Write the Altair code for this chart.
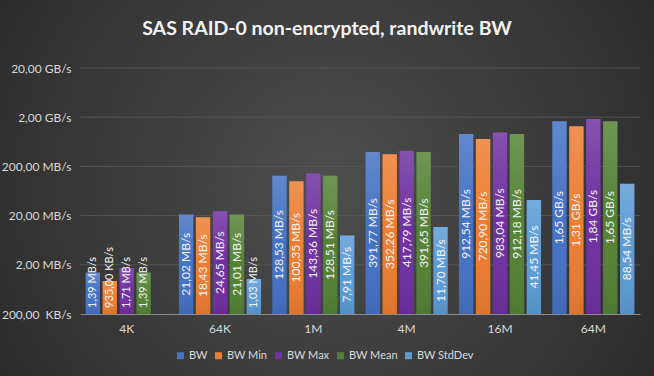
import altair as alt
import pandas as pd

categories = ["4K", "64K", "1M", "4M", "16M", "64M"]
series = ["BW", "BW Min", "BW Max", "BW Mean", "BW StdDev"]
colors = ["#4472C4", "#ED7D31", "#7030A0", "#548235", "#5B9BD5"]

# values in MB/s
bw = [1.39, 21.02, 128.53, 391.77, 912.54, 1650]
bw_min = [0.935, 18.43, 100.35, 352.26, 720.90, 1310]
bw_max = [1.71, 24.65, 143.36, 417.79, 983.04, 1840]
bw_mean = [1.39, 21.01, 128.51, 391.65, 912.18, 1650]
bw_std = [None, 1.03, 7.91, 11.70, 41.45, 88.54]

tick_values = [0.2, 2, 20, 200, 2000, 20000]
tick_labels = ["200,00\u00a0 KB/s", "2,00 MB/s", "20,00 MB/s", "200,00 MB/s", "2,00 GB/s", "20,00 GB/s"]


def fmt(v):
    if v >= 1000:
        return f"{v/1000:.2f}".replace(".", ",") + " GB/s"
    if v < 1:
        return f"{v*1000:.2f}".replace(".", ",") + " KB/s"
    return f"{v:.2f}".replace(".", ",") + " MB/s"


rows = []
for s, vals in zip(series, [bw, bw_min, bw_max, bw_mean, bw_std]):
    for c, v in zip(categories, vals):
        if v is None:
            continue
        rows.append({"cat": c, "series": s, "value": v, "label": fmt(v)})
df = pd.DataFrame(rows)
grid_df = pd.DataFrame({"tick": tick_values[1:]})

W, H = 560, 246
BASE = 0.2
yscale = alt.Scale(type="log", domain=[0.2, 20000], nice=False)
x_enc = alt.X("cat:N", sort=categories, scale=alt.Scale(paddingInner=0.12, paddingOuter=0.06),
              axis=alt.Axis(title=None, labelAngle=0, ticks=False, domainColor="#8c8c8c",
                            labelColor="#d9d9d9", labelFontSize=12, labelFont="Lato",
                            labelPadding=9, grid=False, zindex=1))
xo_enc = alt.XOffset("series:N", sort=series, scale=alt.Scale(paddingInner=0.15))
label_map = "{" + ",".join(f"'{v}':'{l}'" for v, l in zip(tick_values, tick_labels)) + "}"

bg = alt.Chart(alt.Data(values=[{}])).mark_rect(
    fill={"gradient": "radial", "x1": 0.5, "y1": 0.5, "x2": 0.5, "y2": 0.5, "r1": 0, "r2": 0.72,
          "stops": [{"offset": 0, "color": "#4e4e4e"}, {"offset": 1, "color": "#242424"}]}
).encode(x=alt.value(-80), x2=alt.value(574), y=alt.value(-68), y2=alt.value(308))

grid = alt.Chart(grid_df).mark_rule(color="#5a5a5a", strokeWidth=0.8).encode(
    y=alt.Y("tick:Q", scale=yscale)
)

bars = alt.Chart(df).mark_bar().encode(
    x=x_enc,
    xOffset=xo_enc,
    y=alt.Y("value:Q", scale=yscale,
            axis=alt.Axis(title=None, values=tick_values, labelExpr=f"{label_map}[datum.value] || ''",
                          ticks=False, domain=False, grid=False, zindex=1,
                          labelColor="#d9d9d9", labelFontSize=12, labelFont="Lato", labelPadding=9)),
    y2=alt.datum(BASE),
    color=alt.Color("series:N", sort=series, scale=alt.Scale(domain=series, range=colors),
                    legend=alt.Legend(title=None, orient="none", legendX=95, legendY=282,
                                      direction="horizontal", symbolType="square", symbolSize=49,
                                      symbolStrokeWidth=0, labelColor="#d9d9d9", labelFontSize=11,
                                      labelFont="Lato", labelOffset=3, columnPadding=5)),
)

shade = alt.Chart(df).mark_bar(
    fill={"gradient": "linear", "x1": 0, "y1": 0, "x2": 0, "y2": 1,
          "stops": [{"offset": 0, "color": "rgba(255,255,255,0.16)"},
                    {"offset": 0.5, "color": "rgba(255,255,255,0)"},
                    {"offset": 1, "color": "rgba(0,0,0,0.08)"}]}
).encode(
    x=alt.X("cat:N", sort=categories), xOffset=alt.XOffset("series:N", sort=series),
    y=alt.Y("value:Q", scale=yscale), y2=alt.datum(BASE))

big = alt.Chart(df).transform_filter("datum.value >= 5").transform_calculate(
    ypos="sqrt(datum.value * 0.2)"
).mark_text(angle=270, align="center", baseline="middle", fontSize=12, font="Lato",
            color="#f2f2f2").encode(
    x=alt.X("cat:N", sort=categories), xOffset=alt.XOffset("series:N", sort=series),
    y=alt.Y("ypos:Q", scale=yscale), text="label:N")

small = alt.Chart(df).transform_filter("datum.value < 5").mark_text(
    angle=270, align="left", baseline="middle", fontSize=11, font="Lato", color="#f2f2f2", dx=6
).encode(
    x=alt.X("cat:N", sort=categories), xOffset=alt.XOffset("series:N", sort=series),
    y=alt.datum(BASE), text="label:N")

chart = alt.layer(bg, grid, bars, shade, big, small).properties(
    width=W, height=H,
    title=alt.TitleParams("SAS RAID-0 non-encrypted, randwrite BW", fontSize=19.5, font="Lato",
                          fontWeight="bold", color="#f2f2f2", anchor="middle", dx=-33,
                          offset=0, dy=39),
    autosize=alt.AutoSizeParams(type="none"),
    padding={"left": 80, "top": 68, "right": 14, "bottom": 62},
    background="#333333",
).configure_view(stroke=None)

chart.save("out.html", embed_options={"renderer": "svg", "actions": False})
